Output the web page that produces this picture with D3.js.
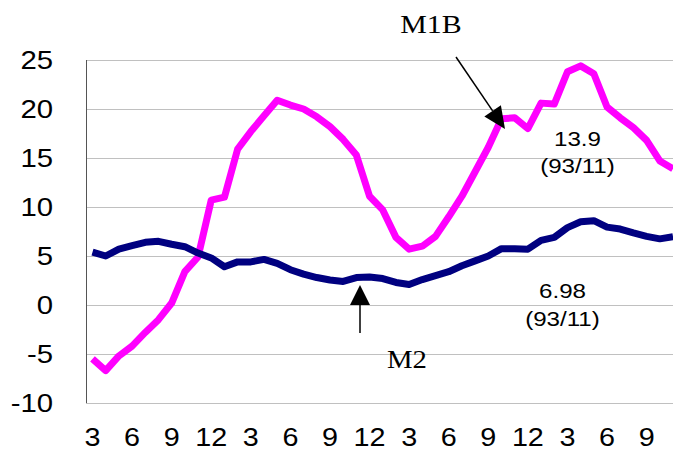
<!DOCTYPE html>
<html><head><meta charset="utf-8">
<script src="https://cdn.jsdelivr.net/npm/d3@7"></script>
<style>html,body{margin:0;padding:0;background:#fff;overflow:hidden}</style>
</head><body>
<svg id="chart" width="673" height="453"></svg>
<script>
// ---- data ----
const categories = ["90/3","90/4","90/5","90/6","90/7","90/8","90/9","90/10","90/11","90/12",
  "91/1","91/2","91/3","91/4","91/5","91/6","91/7","91/8","91/9","91/10","91/11","91/12",
  "92/1","92/2","92/3","92/4","92/5","92/6","92/7","92/8","92/9","92/10","92/11","92/12",
  "93/1","93/2","93/3","93/4","93/5","93/6","93/7","93/8","93/9","93/10","93/11"];
const m1b = [-5.5,-6.7,-5.2,-4.2,-2.8,-1.5,0.2,3.4,4.9,10.7,
  11.0,15.9,17.7,19.3,20.9,20.4,20.0,19.2,18.2,16.9,15.3,11.1,
  9.7,6.9,5.7,6.0,7.0,9.0,11.1,13.6,16.1,19.0,19.1,18.0,
  20.6,20.5,23.8,24.4,23.6,20.2,19.1,18.1,16.8,14.7,13.9];
const m2 = [5.4,5.0,5.7,6.05,6.4,6.5,6.2,5.95,5.3,4.8,
  3.9,4.4,4.4,4.65,4.25,3.6,3.15,2.8,2.55,2.4,2.8,2.85,
  2.7,2.3,2.1,2.6,3.0,3.4,4.0,4.5,5.0,5.75,5.75,5.7,
  6.6,6.9,7.9,8.5,8.6,7.95,7.75,7.35,7.0,6.75,6.98];
const yTicks = [-10,-5,0,5,10,15,20,25];
const xTickCategories = ["90/3","90/6","90/9","90/12","91/3","91/6","91/9","91/12",
  "92/3","92/6","92/9","92/12","93/3","93/6","93/9"];
const xTickLabels = ["3","6","9","12","3","6","9","12","3","6","9","12","3","6","9"];

// ---- layout ----
const svg = d3.select("#chart");
const plotL = 86, plotR = 673, plotT = 60, plotB = 403;
const x = d3.scalePoint().domain(categories).range([92.5, 673]);
const y = d3.scaleLinear().domain([-10, 25]).range([plotB, plotT]);
const SX = 1.15; // horizontal stretch of text

svg.append("rect").attr("width",673).attr("height",453).attr("fill","#fff");

function txt(g, tx, ty, s, opts) {
  return g.append("text")
    .attr("transform", `translate(${tx},${ty}) scale(${SX},1)`)
    .attr("text-anchor", opts.anchor || "middle")
    .attr("font-family", opts.family || "'Liberation Sans', Arial, sans-serif")
    .attr("font-size", opts.size)
    .attr("fill", "#000")
    .text(s);
}

// gridlines via axis
const yAxis = d3.axisLeft(y).tickValues(yTicks).tickSize(-(plotR - plotL)).tickFormat("");
const gy = svg.append("g").attr("transform", `translate(${plotL},0)`).call(yAxis);
gy.select(".domain").remove();
gy.selectAll(".tick line").attr("stroke", "#c0c0c0").attr("stroke-width", 1);

// y tick labels
const gyl = svg.append("g");
yTicks.forEach(v => txt(gyl, 53, y(v) + 9, String(v), {anchor:"end", size:25.5}));

// left axis line
svg.append("line").attr("x1", plotL + 0.5).attr("x2", plotL + 0.5)
  .attr("y1", plotT).attr("y2", plotB).attr("stroke", "#555").attr("stroke-width", 1);

// x tick labels via axis positions
const xAxis = d3.axisBottom(x).tickValues(xTickCategories).tickSize(0).tickFormat("");
const gx = svg.append("g").attr("transform", `translate(0,${plotB})`).call(xAxis);
gx.select(".domain").remove();
const gxl = svg.append("g");
xTickCategories.forEach((c, i) => txt(gxl, x(c), 446, xTickLabels[i], {size:25}));

// lines
const line = d3.line().x((d, i) => x(categories[i])).y(d => y(d));
svg.append("path").datum(m1b).attr("d", line).attr("fill", "none")
  .attr("stroke", "#ff00ff").attr("stroke-width", 7).attr("stroke-linejoin", "round");
svg.append("path").datum(m2).attr("d", line).attr("fill", "none")
  .attr("stroke", "#000080").attr("stroke-width", 7).attr("stroke-linejoin", "round");

// annotations
const ga = svg.append("g");
function arrow(x1, y1, x2, y2, headLen, headHalf) {
  const dx = x2 - x1, dy = y2 - y1, L = Math.hypot(dx, dy);
  const ux = dx / L, uy = dy / L;
  const bx = x2 - ux * headLen, by = y2 - uy * headLen;
  ga.append("line").attr("x1", x1).attr("y1", y1).attr("x2", bx).attr("y2", by)
    .attr("stroke", "#000").attr("stroke-width", 1.5);
  ga.append("path").attr("d",
    `M${x2},${y2}L${bx - uy * headHalf},${by + ux * headHalf}L${bx + uy * headHalf},${by - ux * headHalf}Z`)
    .attr("fill", "#000");
}
arrow(456, 57, 505, 129, 22, 10);
arrow(360, 333, 360, 285, 20, 10);

txt(ga, 431, 33, "M1B", {size:26, family:"'Liberation Serif', 'Times New Roman', serif"});
txt(ga, 387, 368, "M2", {anchor:"start", size:25, family:"'Liberation Serif', 'Times New Roman', serif"});
txt(ga, 577.5, 146, "13.9", {size:21});
txt(ga, 577.5, 173, "(93/11)", {size:21});
txt(ga, 562.5, 298, "6.98", {size:21});
txt(ga, 562.5, 326, "(93/11)", {size:21});
</script>
</body></html>
